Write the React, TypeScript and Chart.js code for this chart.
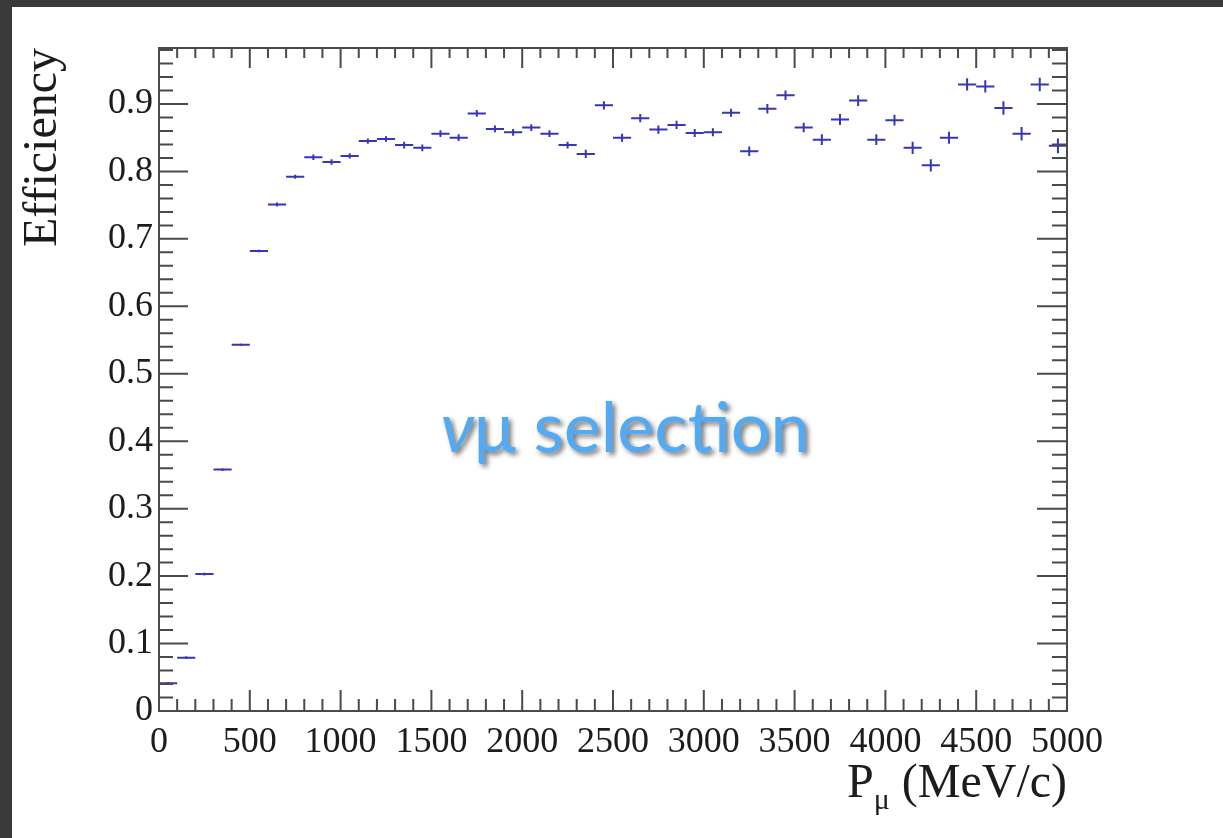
import React, { useEffect, useRef } from "react";
import { Chart, registerables } from "chart.js";

Chart.register(...registerables);

// ---- data ----
const BIN_CENTERS = [
  50, 150, 250, 350, 450, 550, 650, 750, 850, 950,
  1050, 1150, 1250, 1350, 1450, 1550, 1650, 1750, 1850, 1950,
  2050, 2150, 2250, 2350, 2450, 2550, 2650, 2750, 2850, 2950,
  3050, 3150, 3250, 3350, 3450, 3550, 3650, 3750, 3850, 3950,
  4050, 4150, 4250, 4350, 4450, 4550, 4650, 4750, 4850, 4950,
];
const BIN_HALF_WIDTH = 50;
const EFFICIENCY = [
  0.041, 0.079, 0.203, 0.358, 0.543, 0.682, 0.751, 0.792, 0.821, 0.814,
  0.823, 0.845, 0.848, 0.839, 0.835, 0.856, 0.85, 0.886, 0.863, 0.858,
  0.865, 0.856, 0.839, 0.826, 0.898, 0.85, 0.879, 0.862, 0.869, 0.857,
  0.858, 0.887, 0.83, 0.893, 0.913, 0.865, 0.847, 0.877, 0.905, 0.847,
  0.876, 0.835, 0.809, 0.85, 0.929, 0.926, 0.894, 0.856, 0.929, 0.838,
];
const EFFICIENCY_ERR = [
  0.002, 0.002, 0.002, 0.002, 0.002, 0.002, 0.003, 0.003, 0.004, 0.004,
  0.004, 0.004, 0.004, 0.005, 0.005, 0.005, 0.005, 0.005, 0.005, 0.005,
  0.005, 0.005, 0.005, 0.006, 0.006, 0.006, 0.006, 0.006, 0.006, 0.006,
  0.006, 0.006, 0.007, 0.007, 0.007, 0.007, 0.008, 0.008, 0.008, 0.008,
  0.008, 0.009, 0.009, 0.009, 0.009, 0.009, 0.01, 0.01, 0.01, 0.011,
];
const X_TICKS = [0, 500, 1000, 1500, 2000, 2500, 3000, 3500, 4000, 4500, 5000];
const Y_TICKS = [0, 0.1, 0.2, 0.3, 0.4, 0.5, 0.6, 0.7, 0.8, 0.9];
const Y_TICK_LABELS = ["0", "0.1", "0.2", "0.3", "0.4", "0.5", "0.6", "0.7", "0.8", "0.9"];
const X_MINOR_STEP = 100;
const Y_MINOR_STEP = 0.02;
const X_MAX = 5000;
const Y_MAX = 0.983;

const SERIF = "'Liberation Serif', 'Times New Roman', serif";
const SANS = "Lato, 'Open Sans', sans-serif";
const POINT_COLOR = "#3636b6";
const AXIS_COLOR = "#4a4a4a";

const drawPlugin = {
  id: "rootStyle",
  afterDatasetsDraw(chart: any) {
    const { ctx, chartArea: a, scales } = chart;
    const xs = scales.x;
    const ys = scales.y;
    ctx.save();
    // error bars
    ctx.beginPath();
    ctx.rect(a.left, a.top, a.width, a.height);
    ctx.clip();
    ctx.strokeStyle = POINT_COLOR;
    ctx.lineWidth = 2;
    for (let i = 0; i < BIN_CENTERS.length; i++) {
      const c = BIN_CENTERS[i];
      const v = EFFICIENCY[i];
      const e = EFFICIENCY_ERR[i];
      const x0 = xs.getPixelForValue(c - BIN_HALF_WIDTH);
      const x1 = xs.getPixelForValue(c + BIN_HALF_WIDTH);
      const xc = xs.getPixelForValue(c);
      const yv = ys.getPixelForValue(v);
      const ylo = ys.getPixelForValue(v - e);
      const yhi = ys.getPixelForValue(v + e);
      ctx.beginPath();
      ctx.moveTo(x0, yv);
      ctx.lineTo(x1, yv);
      ctx.moveTo(xc, ylo);
      ctx.lineTo(xc, yhi);
      ctx.stroke();
    }
    ctx.restore();

    // frame and inward ticks
    ctx.save();
    ctx.strokeStyle = AXIS_COLOR;
    ctx.lineWidth = 2;
    ctx.beginPath();
    const nx = Math.round(X_MAX / X_MINOR_STEP);
    for (let k = 0; k <= nx; k++) {
      const v = k * X_MINOR_STEP;
      const major = X_TICKS.some((t) => Math.abs(t - v) < 1e-6);
      const px = xs.getPixelForValue(v);
      ctx.moveTo(px, a.bottom);
      ctx.lineTo(px, a.bottom - (major ? 21 : 12));
      ctx.moveTo(px, a.top);
      ctx.lineTo(px, a.top + (major ? 20 : 10));
    }
    const ny = Math.floor(Y_MAX / Y_MINOR_STEP + 1e-9);
    for (let k = 0; k <= ny; k++) {
      const v = k * Y_MINOR_STEP;
      const major = Y_TICKS.some((t) => Math.abs(t - v) < 1e-6);
      const py = ys.getPixelForValue(v);
      ctx.moveTo(a.left, py);
      ctx.lineTo(a.left + (major ? 29 : 14), py);
      ctx.moveTo(a.right, py);
      ctx.lineTo(a.right - (major ? 30 : 15), py);
    }
    ctx.stroke();
    ctx.strokeRect(a.left, a.top, a.width, a.height);
    ctx.restore();
  },
  afterDraw(chart: any) {
    const { ctx, chartArea: a } = chart;
    ctx.save();
    // x-axis title: P_mu (MeV/c)
    ctx.fillStyle = "#1c1c1c";
    ctx.textBaseline = "alphabetic";
    ctx.textAlign = "right";
    const base = a.bottom + 86;
    ctx.font = `48px ${SERIF}`;
    const rest = "(MeV/c)";
    ctx.fillText(rest, a.right, base);
    const restW = ctx.measureText(rest).width;
    const muRight = a.right - restW - 12;
    ctx.font = `30px ${SERIF}`;
    ctx.fillText("\u03bc", muRight, base + 12);
    const muW = ctx.measureText("\u03bc").width;
    ctx.font = `48px ${SERIF}`;
    ctx.fillText("P", muRight - muW, base);

    // overlay label
    const label1 = "\u03bd";
    const label2 = "\u03bc selection";
    const size = 70;
    ctx.font = `italic ${size}px ${SANS}`;
    const w1 = ctx.measureText(label1).width;
    ctx.font = `${size}px ${SANS}`;
    const w2 = ctx.measureText(label2).width;
    const total = w1 + w2;
    const cx = 613;
    const by = 445;
    ctx.shadowColor = "rgba(0,0,0,0.55)";
    ctx.shadowOffsetX = 3;
    ctx.shadowOffsetY = 3;
    ctx.shadowBlur = 5;
    ctx.fillStyle = "#52a9f4";
    ctx.textAlign = "left";
    ctx.font = `italic ${size}px ${SANS}`;
    ctx.fillText(label1, cx - total / 2, by);
    ctx.font = `${size}px ${SANS}`;
    ctx.fillText(label2, cx - total / 2 + w1, by);
    ctx.restore();
  },
};

export default function App() {
  const canvasRef = useRef<HTMLCanvasElement | null>(null);

  useEffect(() => {
    if (!canvasRef.current) return;
    const chart = new Chart(canvasRef.current, {
      type: "scatter",
      data: {
        datasets: [
          {
            label: "Efficiency",
            data: BIN_CENTERS.map((x, i) => ({ x, y: EFFICIENCY[i] })),
            pointRadius: 0,
            pointHoverRadius: 0,
            showLine: false,
            borderColor: POINT_COLOR,
            backgroundColor: POINT_COLOR,
          },
        ],
      },
      options: {
        responsive: false,
        animation: false,
        events: [],
        layout: { padding: { left: 0, top: 41, right: 156, bottom: 0 } },
        plugins: {
          legend: { display: false },
          tooltip: { enabled: false },
          title: { display: false },
        },
        scales: {
          x: {
            type: "linear",
            min: 0,
            max: X_MAX,
            grid: { display: false, drawTicks: false },
            border: { display: false },
            afterBuildTicks: (s: any) => {
              s.ticks = X_TICKS.map((v) => ({ value: v }));
            },
            afterFit: (s: any) => {
              s.height = 127;
            },
            ticks: {
              padding: 10,
              maxRotation: 0,
              autoSkip: false,
              color: "#1c1c1c",
              font: { family: SERIF, size: 36, lineHeight: 1.2 },
              callback: (v: any) => String(v),
            },
          },
          y: {
            type: "linear",
            min: 0,
            max: Y_MAX,
            grid: { display: false, drawTicks: false },
            border: { display: false },
            afterBuildTicks: (s: any) => {
              s.ticks = Y_TICKS.map((v) => ({ value: v }));
            },
            afterFit: (s: any) => {
              s.width = 147;
            },
            title: {
              display: true,
              text: "Efficiency",
              align: "end",
              color: "#1c1c1c",
              font: { family: SERIF, size: 48, lineHeight: 1 },
              padding: { top: 7, bottom: 0 },
            },
            ticks: {
              padding: 6,
              autoSkip: false,
              color: "#1c1c1c",
              font: { family: SERIF, size: 36, lineHeight: 1.2 },
              callback: (v: any) => {
                const idx = Y_TICKS.findIndex((t) => Math.abs(t - v) < 1e-9);
                return idx >= 0 ? Y_TICK_LABELS[idx] : "";
              },
            },
          },
        },
      },
      plugins: [drawPlugin],
    });
    return () => chart.destroy();
  }, []);

  return (
    <div
      style={{
        position: "fixed",
        left: 0,
        top: 0,
        width: 1223,
        height: 838,
        background: "#3a3a3a",
        overflow: "hidden",
      }}
    >
      <canvas
        ref={canvasRef}
        width={1211}
        height={831}
        style={{ position: "absolute", left: 12, top: 7, width: 1211, height: 831, background: "#ffffff" }}
      />
    </div>
  );
}
